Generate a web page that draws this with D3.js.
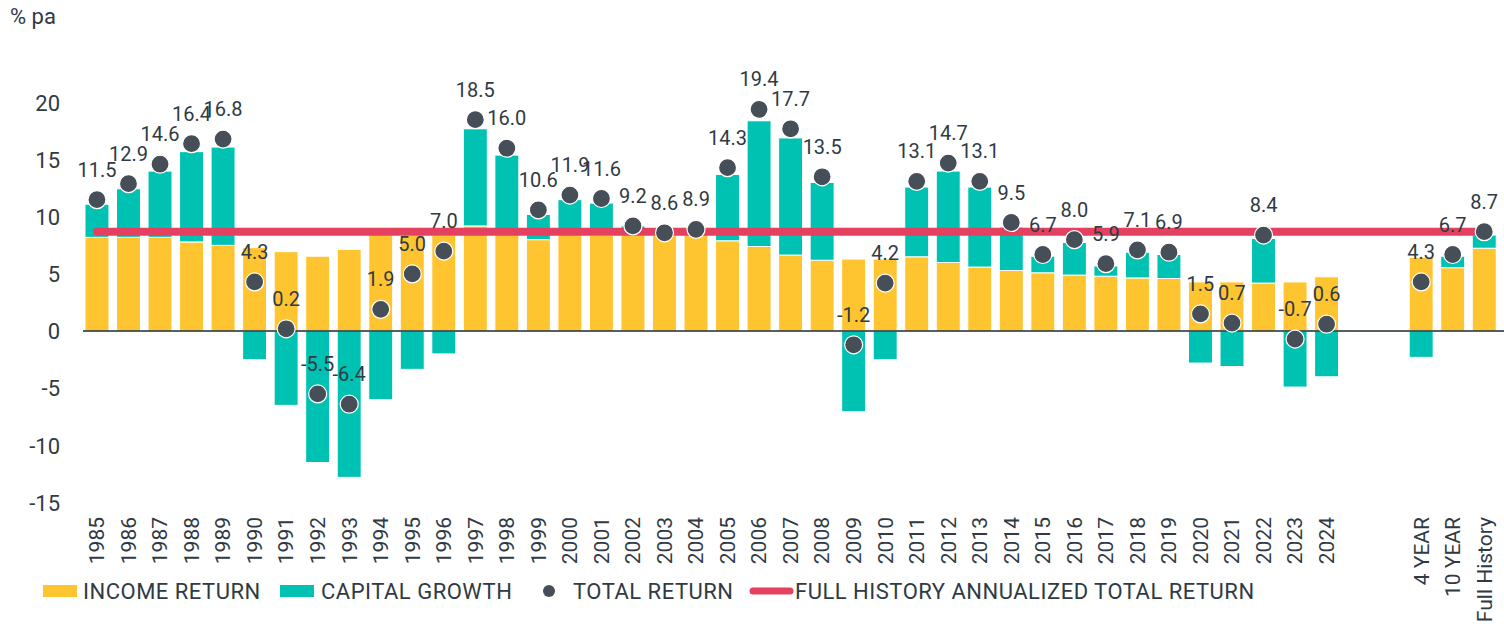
<!DOCTYPE html>
<html>
<head>
<meta charset="utf-8">
<script src="https://cdn.jsdelivr.net/npm/d3@7"></script>
<style>
  html, body { margin: 0; padding: 0; background: #ffffff; }
  svg { display: block; font-family: Roboto, "Noto Sans", sans-serif; }
</style>
</head>
<body>
<svg id="chart" width="1504" height="629"></svg>
<script>
// ---------- DATA ----------
const categories = ["1985","1986","1987","1988","1989","1990","1991","1992","1993","1994",
  "1995","1996","1997","1998","1999","2000","2001","2002","2003","2004",
  "2005","2006","2007","2008","2009","2010","2011","2012","2013","2014",
  "2015","2016","2017","2018","2019","2020","2021","2022","2023","2024",
  "4 YEAR","10 YEAR","Full History"];
const gapSlots = ["gap1","gap2"]; // empty slots between 2024 and the summary bars
const incomeReturn = [8.2,8.2,8.2,7.8,7.5,7.3,6.95,6.55,7.15,8.5,
  8.4,8.4,9.2,8.6,8.0,8.5,8.4,8.5,8.4,8.5,
  7.9,7.4,6.65,6.2,6.3,6.3,6.5,6.0,5.6,5.3,
  5.1,4.9,4.8,4.65,4.6,4.3,4.3,4.2,4.3,4.75,
  6.45,5.55,7.25];
const capitalGrowth = [2.9,4.25,5.8,7.9,8.6,-2.5,-6.5,-11.5,-12.8,-6.0,
  -3.35,-2.0,8.5,6.8,2.2,3.0,2.8,0.7,0.2,0.4,
  5.8,11.0,10.25,6.8,-7.05,-2.5,6.1,8.0,7.0,3.8,
  1.45,2.85,0.9,2.25,2.1,-2.8,-3.1,3.9,-4.9,-4.0,
  -2.3,1.0,1.15];
const totalReturn = [11.5,12.9,14.6,16.4,16.8,4.3,0.2,-5.5,-6.4,1.9,
  5.0,7.0,18.5,16.0,10.6,11.9,11.6,9.2,8.6,8.9,
  14.3,19.4,17.7,13.5,-1.2,4.2,13.1,14.7,13.1,9.5,
  6.7,8.0,5.9,7.1,6.9,1.5,0.7,8.4,-0.7,0.6,
  4.3,6.7,8.7];
const fullHistoryAnnualized = 8.7;
const yTicks = [-15,-10,-5,0,5,10,15,20];
const yAxisTitle = "% pa";
const legendLabels = ["INCOME RETURN","CAPITAL GROWTH","TOTAL RETURN","FULL HISTORY ANNUALIZED TOTAL RETURN"];

// ---------- STYLE ----------
const C = {
  income: "#FFC530",
  capital: "#00C2B2",
  dot: "#464E57",
  line: "#E3415F",
  text: "#2F3A45",
  axis: "#1E2A30"
};

const hyphenMinus = s => s.replace("\u2212", "-");
const fmt1 = v => hyphenMinus(d3.format(".1f")(v));
const fmt0 = v => hyphenMinus(d3.format("d")(v));

const svg = d3.select("#chart");

const slotDomain = categories.slice(0, 40).concat(gapSlots, categories.slice(40));
const x = d3.scaleBand().domain(slotDomain).range([81.2, 1500]).paddingInner(0.24).paddingOuter(0.12);
const y = d3.scaleLinear().domain([-15, 20]).range([502.5, 102.5]);
const bw = x.bandwidth();
const cx = d => x(d) + bw / 2;

const rows = categories.map((c, i) => ({
  cat: c, inc: incomeReturn[i], cap: capitalGrowth[i], tot: totalReturn[i]
}));

// y axis labels (no lines)
const yAxis = d3.axisLeft(y).tickValues(yTicks).tickSize(0).tickPadding(0).tickFormat(fmt0);
const gy = svg.append("g").attr("transform", "translate(60,0)").call(yAxis);
gy.select(".domain").remove();
gy.selectAll("text").attr("font-size", 22).attr("fill", C.text)
  .attr("font-family", "Roboto, sans-serif").attr("dy", "0.35em");

svg.append("text").attr("x", 10).attr("y", 24).attr("font-size", 22)
  .attr("fill", C.text).text(yAxisTitle);

// bars
const bars = svg.append("g");
bars.selectAll("rect.inc").data(rows).join("rect").attr("class", "inc")
  .attr("x", d => x(d.cat)).attr("width", bw)
  .attr("y", d => y(Math.max(0, d.inc))).attr("height", d => Math.abs(y(d.inc) - y(0)))
  .attr("fill", C.income).attr("stroke", "#fff").attr("stroke-width", 1);
bars.selectAll("rect.cap").data(rows).join("rect").attr("class", "cap")
  .attr("x", d => x(d.cat)).attr("width", bw)
  .attr("y", d => d.cap >= 0 ? y(d.inc + d.cap) : y(0))
  .attr("height", d => d.cap >= 0 ? y(d.inc) - y(d.inc + d.cap) : y(d.cap) - y(0))
  .attr("fill", C.capital).attr("stroke", "#fff").attr("stroke-width", 1);

// zero line
svg.append("line").attr("x1", 83).attr("x2", 1504).attr("y1", y(0)).attr("y2", y(0))
  .attr("stroke", C.axis).attr("stroke-width", 1.6);

// full history line
const lineGen = d3.line().x(d => cx(d)).y(() => y(fullHistoryAnnualized));
svg.append("path").datum([categories[0], categories[categories.length - 1]])
  .attr("d", lineGen).attr("stroke", C.line).attr("stroke-width", 8)
  .attr("stroke-linecap", "round").attr("fill", "none");

// dots
svg.append("g").selectAll("circle").data(rows).join("circle")
  .attr("cx", d => cx(d.cat)).attr("cy", d => y(d.tot)).attr("r", 9)
  .attr("fill", C.dot).attr("stroke", "#fff").attr("stroke-width", 1.2);

// value labels
svg.append("g").selectAll("text").data(rows).join("text")
  .attr("x", d => cx(d.cat)).attr("y", d => y(d.tot) - 23)
  .attr("text-anchor", "middle").attr("font-size", 20).attr("fill", C.text)
  .text(d => fmt1(d.tot));

// x labels
svg.append("g").selectAll("text").data(categories).join("text")
  .attr("transform", d => `translate(${cx(d)},517) rotate(-90)`)
  .attr("text-anchor", "end").attr("dy", "0.35em")
  .attr("font-size", 21).attr("fill", C.text).text(d => d);

// legend
const lg = svg.append("g").attr("font-size", 22).attr("letter-spacing", "0.5px").attr("fill", C.text);
const ly = 591;
lg.append("rect").attr("x", 43).attr("y", ly - 6).attr("width", 34).attr("height", 12).attr("fill", C.income);
lg.append("text").attr("x", 83).attr("y", ly + 7.5).text(legendLabels[0]);
lg.append("rect").attr("x", 280).attr("y", ly - 6).attr("width", 34).attr("height", 12).attr("fill", C.capital);
lg.append("text").attr("x", 321).attr("y", ly + 7.5).text(legendLabels[1]);
lg.append("circle").attr("cx", 549).attr("cy", ly).attr("r", 6).attr("fill", C.dot);
lg.append("text").attr("x", 573).attr("y", ly + 7.5).text(legendLabels[2]);
lg.append("line").attr("x1", 753).attr("x2", 790).attr("y1", ly).attr("y2", ly)
  .attr("stroke", C.line).attr("stroke-width", 7).attr("stroke-linecap", "round");
lg.append("text").attr("x", 795).attr("y", ly + 7.5).text(legendLabels[3]);
</script>
</body>
</html>
